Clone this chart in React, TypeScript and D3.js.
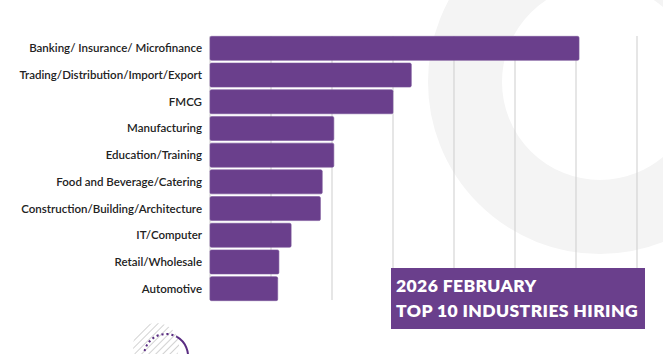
import React from 'react';
import * as d3 from 'd3';

const industries = [
    'Banking/ Insurance/ Microfinance',
    'Trading/Distribution/Import/Export',
    'FMCG',
    'Manufacturing',
    'Education/Training',
    'Food and Beverage/Catering',
    'Construction/Building/Architecture',
    'IT/Computer',
    'Retail/Wholesale',
    'Automotive',
];
const hiring = [60.5, 33, 30, 20.3, 20.3, 18.4, 18.1, 13.3, 11.3, 11.1];
const titleLines = ['2026 FEBRUARY', 'TOP 10 INDUSTRIES HIRING'];

const width = 663;
const height = 354;
const purple = '#6a3f8c';

const App = () => {
    const x = d3.scaleLinear().domain([0, 70]).range([210, 637]);
    const y = d3.scaleBand().domain(industries).range([35, 302]).paddingInner(0.1).paddingOuter(0.05);
    const grid = x.ticks(7);

    // decorations near the bottom left
    const dotted = d3.arc()({ innerRadius: 22, outerRadius: 22, startAngle: -Math.PI / 2, endAngle: Math.PI / 6 });
    const solid = d3.arc()({ innerRadius: 22, outerRadius: 22, startAngle: Math.PI / 6, endAngle: Math.PI });

    return (
        <svg width={width} height={height} style={{ position: 'absolute', left: 0, top: 0, background: '#fff' }}>
            <defs>
                <pattern id="hatch" width="5" height="5" patternUnits="userSpaceOnUse" patternTransform="rotate(45)">
                    <line x1="0" y1="0" x2="0" y2="5" stroke="#d2d2d2" strokeWidth="2" />
                </pattern>
            </defs>

            {/* background ring */}
            <circle cx={600} cy={82} r={135} fill="none" stroke="#f4f4f4" strokeWidth={74} />

            {grid.map(t => (
                <line key={t} x1={x(t)} x2={x(t)} y1={36} y2={300} stroke="#cdcdcd" strokeWidth={1} />
            ))}

            {industries.map((name, i) => (
                <g key={name}>
                    <rect
                        x={x(0)}
                        y={y(name)}
                        width={x(hiring[i]) - x(0)}
                        height={y.bandwidth()}
                        rx={1.5}
                        fill={purple}
                        stroke="#7a559a"
                        strokeWidth={0.6}
                    />
                    <text
                        x={202}
                        y={(y(name) || 0) + y.bandwidth() / 2}
                        dy="0.35em"
                        textAnchor="end"
                        fontFamily="Lato, sans-serif"
                        fontWeight={600}
                        fontSize={11.5}
                        fill="#222"
                    >
                        {name}
                    </text>
                </g>
            ))}

            <rect x={391} y={268} width={254} height={61} fill={purple} />
            {titleLines.map((line, i) => (
                <text
                    key={line}
                    x={396}
                    y={292 + i * 25}
                    fontFamily="Lato, sans-serif"
                    fontWeight={800}
                    fontSize={17.5}
                    letterSpacing={0.4}
                    fill="#fff"
                >
                    {line}
                </text>
            ))}

            <circle cx={156} cy={346} r={23} fill="url(#hatch)" />
            <g transform="translate(166,356)" fill="none" stroke="#5a2d82" strokeWidth={2}>
                <path d={dotted || ''} strokeDasharray="2 3" />
                <path d={solid || ''} />
            </g>
        </svg>
    );
};

export default App;
